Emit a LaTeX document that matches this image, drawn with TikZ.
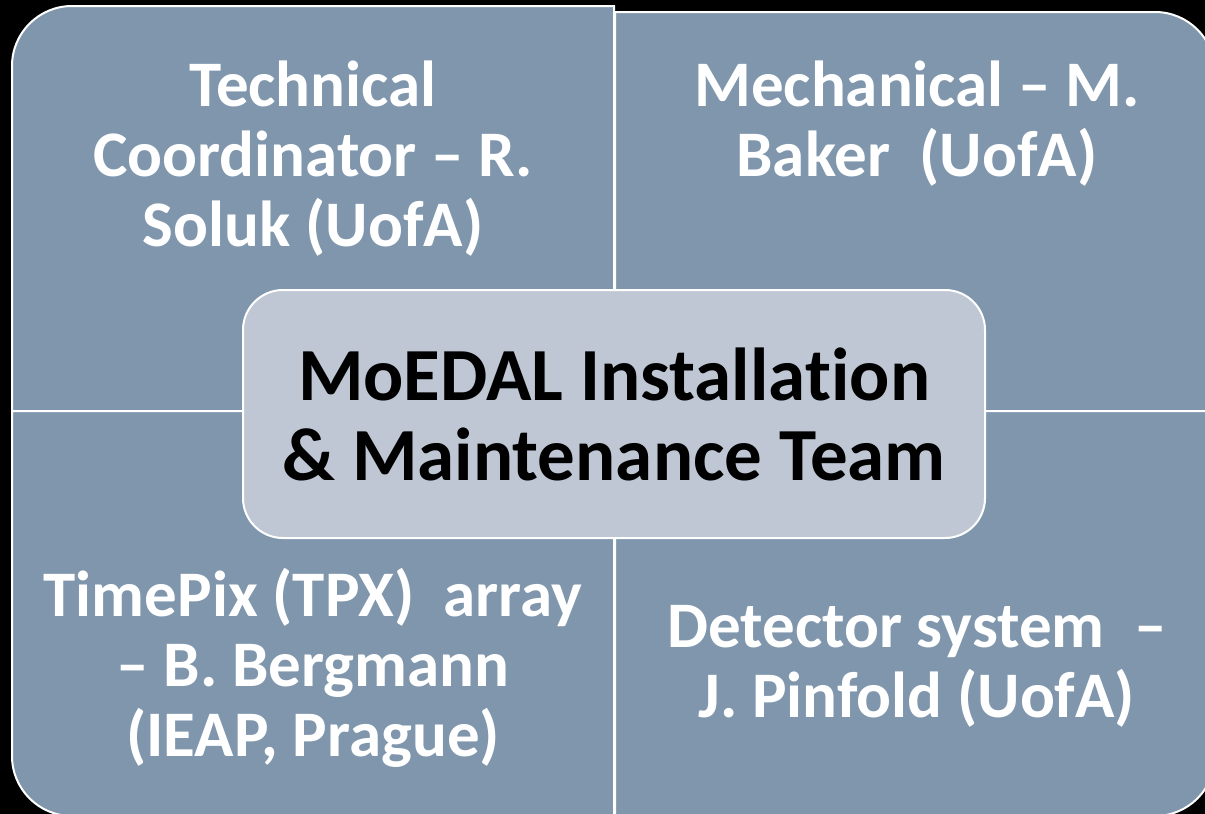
\documentclass[tikz,border=0pt]{standalone}
\usepackage{fontspec}
\setmainfont{Carlito}[Ligatures={TeX,NoCommon}]
\usepackage{tikz}
\usetikzlibrary{positioning}
\definecolor{quadblue}{RGB}{127,150,173}
\definecolor{coreblue}{RGB}{190,199,211}

\begin{document}
\begin{tikzpicture}[
    x=0.5pt, y=-0.5pt,
    quad/.style={
        fill=quadblue, draw=white, line width=1pt
    },
    role/.style={
        text=white, align=center, font=\fontsize{32.5}{35}\selectfont\bfseries,
        inner sep=0pt
    },
    core/.style={
        rectangle, fill=coreblue, draw=white, line width=1pt,
        rounded corners=20pt, minimum width=371pt, minimum height=124pt,
        align=center, font=\fontsize{37.5}{41}\selectfont\bfseries
    }
]
    % background
    \fill[black] (0,0) rectangle (1205,814);
    \useasboundingbox (0,0) rectangle (1205,814);

    % four quadrants
    \draw[quad] (12,411) [rounded corners=30pt] -- (12,6) [sharp corners] -- (614,6) -- (614,411) -- cycle;
    \draw[quad] (615,12) [rounded corners=30pt] -- (1215,12) [sharp corners] -- (1215,411) -- (615,411) -- cycle;
    \draw[quad] (12,411) -- (614,411) -- (614,816) [rounded corners=30pt] -- (12,816) [sharp corners] -- cycle;
    \draw[quad] (615,411) -- (1215,411) [rounded corners=30pt] -- (1215,816) [sharp corners] -- (615,816) -- cycle;

    \node[role] (tech) at (313,159) {Technical\\Coordinator -- R.\\Soluk (UofA)};
    \node[role] (mech) at (917,124) {Mechanical -- M.\\Baker~~(UofA)};
    \node[role] (tpx) at (313,668) {TimePix (TPX)~~array\\-- B. Bergmann\\(IEAP, Prague)};
    \node[role] (det) at (917,666) {Detector system~~--\\J. Pinfold (UofA)};

    \node[core] (team) at (614,414) {MoEDAL Installation\\[-1pt]\& Maintenance Team};
\end{tikzpicture}
\end{document}
